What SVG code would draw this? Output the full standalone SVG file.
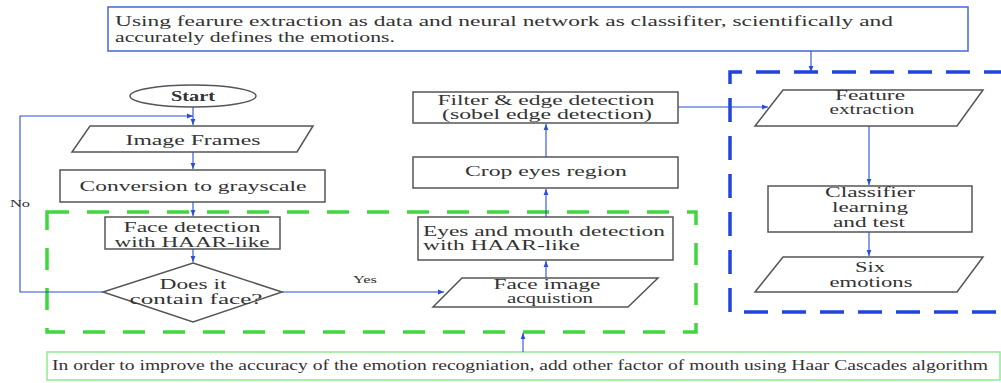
<svg xmlns="http://www.w3.org/2000/svg" width="1001" height="383" viewBox="0 0 1001 383">
<defs>
<marker id="ah" viewBox="0 0 10 10" refX="10" refY="5" markerWidth="6" markerHeight="6" markerUnits="userSpaceOnUse" orient="auto"><path d="M0,1 L10,5 L0,9 z" fill="#2a4fd6"/></marker>
<style>
.n{fill:#fff;stroke:#555;stroke-width:1.5}
.t{font-family:"Liberation Serif","Times New Roman",serif;font-size:14px;fill:#333}
.c{text-anchor:middle}
.s{font-size:10px}
.e{fill:none;stroke:#2a4fd6;stroke-width:1.1}
</style>
</defs>
<rect width="1001" height="383" fill="#fff"/>
<g id="blueGroup"><path d="M1008,72 H730 V312 H1008" fill="none" stroke="#1f45dd" stroke-width="3.5" stroke-dasharray="24,14"/></g>
<g id="greenGroup"><path d="M47,212 H696 V332 H47 Z" fill="none" stroke="#3fd63f" stroke-width="3.5" stroke-dasharray="22,18"/></g>
<g id="topNote"><rect x="108" y="7" width="860" height="44" fill="#fff" stroke="#4466dd" stroke-width="1.5"/>
<text class="t" x="115" y="26" font-size="15" textLength="778" lengthAdjust="spacingAndGlyphs">Using fearure extraction as data and neural network as classifiter, scientifically and</text>
<text class="t" x="115" y="42" font-size="15" textLength="280" lengthAdjust="spacingAndGlyphs">accurately defines the emotions.</text></g>
<g id="bottomNote"><rect x="47" y="352" width="953" height="28" fill="#fff" stroke="#8eea8e" stroke-width="1.5"/>
<text class="t" x="52" y="370" font-size="13" textLength="936" lengthAdjust="spacingAndGlyphs">In order to improve the accuracy of the emotion recogniation, add other factor of mouth using Haar Cascades algorithm</text></g>
<g id="start"><ellipse class="n" cx="193" cy="96" rx="63" ry="11"/><text class="t c" x="193" y="101" font-weight="bold" textLength="44" lengthAdjust="spacingAndGlyphs">Start</text></g>
<g id="imageFrames"><polygon class="n" points="90,126 313,126 297,152 72,152"/><text class="t c" x="193" y="145" textLength="135" lengthAdjust="spacingAndGlyphs">Image Frames</text></g>
<g id="grayscale"><rect class="n" x="60" y="170" width="265" height="32"/><text class="t c" x="193" y="191" textLength="227" lengthAdjust="spacingAndGlyphs">Conversion to grayscale</text></g>
<g id="faceDetect"><rect class="n" x="105" y="217" width="175" height="32"/><text class="t c" x="192" y="232" textLength="137" lengthAdjust="spacingAndGlyphs">Face detection</text><text class="t c" x="192" y="247" textLength="155" lengthAdjust="spacingAndGlyphs">with HAAR-like</text></g>
<g id="decision"><polygon class="n" points="193,263 282,292 193,322 103,292"/><text class="t c" x="193" y="289" textLength="67" lengthAdjust="spacingAndGlyphs">Does it</text><text class="t c" x="196" y="304" textLength="133" lengthAdjust="spacingAndGlyphs">contain face?</text></g>
<g id="faceAcq"><polygon class="n" points="462,278 658,278 628,307 433,307"/><text class="t c" x="547" y="289" textLength="107" lengthAdjust="spacingAndGlyphs">Face image</text><text class="t c" x="550" y="303" textLength="86" lengthAdjust="spacingAndGlyphs">acquistion</text></g>
<g id="eyesMouth"><rect class="n" x="418" y="217" width="255" height="43"/><text class="t" x="423" y="236" textLength="242" lengthAdjust="spacingAndGlyphs">Eyes and mouth detection</text><text class="t" x="423" y="250" textLength="157" lengthAdjust="spacingAndGlyphs">with HAAR-like</text></g>
<g id="crop"><rect class="n" x="413" y="157" width="265" height="31"/><text class="t c" x="546" y="176" textLength="162" lengthAdjust="spacingAndGlyphs">Crop eyes region</text></g>
<g id="filter"><rect class="n" x="413" y="92" width="265" height="31"/><text class="t c" x="546" y="105" textLength="217" lengthAdjust="spacingAndGlyphs">Filter &amp; edge detection</text><text class="t c" x="547" y="119" textLength="210" lengthAdjust="spacingAndGlyphs">(sobel edge detection)</text></g>
<g id="feature"><polygon class="n" points="783,90 983,90 957,126 755,126"/><text class="t c" x="870" y="100" textLength="70" lengthAdjust="spacingAndGlyphs">Feature</text><text class="t c" x="872" y="114" textLength="85" lengthAdjust="spacingAndGlyphs">extraction</text></g>
<g id="classifier"><rect class="n" x="768" y="186" width="204" height="46"/><text class="t c" x="870" y="197" textLength="90" lengthAdjust="spacingAndGlyphs">Classifier</text><text class="t c" x="870" y="212" textLength="76" lengthAdjust="spacingAndGlyphs">learning</text><text class="t c" x="869" y="227" textLength="72" lengthAdjust="spacingAndGlyphs">and test</text></g>
<g id="six"><polygon class="n" points="783,257 983,257 957,292 755,292"/><text class="t c" x="870" y="272" textLength="30" lengthAdjust="spacingAndGlyphs">Six</text><text class="t c" x="871" y="287" textLength="83" lengthAdjust="spacingAndGlyphs">emotions</text></g>
<g id="connectors">
<path class="e" d="M193,107 V125" marker-end="url(#ah)"/>
<path class="e" d="M103,292 H20 V116 H193" marker-end="url(#ah)"/>
<path class="e" d="M193,152 V169" marker-end="url(#ah)"/>
<path class="e" d="M193,202 V216" marker-end="url(#ah)"/>
<path class="e" d="M193,249 V262" marker-end="url(#ah)"/>
<path class="e" d="M282,292 H444" marker-end="url(#ah)"/>
<path class="e" d="M546,278 V261" marker-end="url(#ah)"/>
<path class="e" d="M546,217 V189" marker-end="url(#ah)"/>
<path class="e" d="M546,157 V124" marker-end="url(#ah)"/>
<path class="e" d="M678,107 H768" marker-end="url(#ah)"/>
<path class="e" d="M869,126 V185" marker-end="url(#ah)"/>
<path class="e" d="M869,232 V256" marker-end="url(#ah)"/>
<path class="e" d="M811,51 V72" marker-end="url(#ah)"/>
<path class="e" d="M523,352 V333" marker-end="url(#ah)"/>
<text class="t s" x="10" y="207" textLength="20" lengthAdjust="spacingAndGlyphs">No</text>
<text class="t s" x="353" y="283" textLength="24" lengthAdjust="spacingAndGlyphs">Yes</text>
</g>
</svg>
